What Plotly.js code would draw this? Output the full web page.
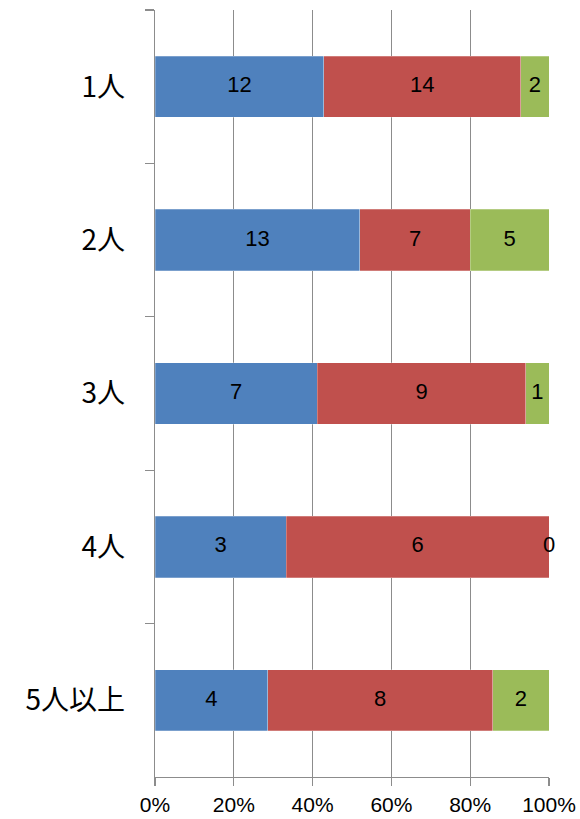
<!DOCTYPE html>
<html><head><meta charset="utf-8">
<script src="https://cdn.plot.ly/plotly-3.0.1.min.js"></script>
<style>html,body{margin:0;padding:0;background:#fff;}#chart{width:580px;height:819px;}</style>
</head><body><div id="chart"></div>
<script>
const categories = ["1人", "2人", "3人", "4人", "5人以上"];
const seriesA = [12, 13, 7, 3, 4];
const seriesB = [14, 7, 9, 6, 8];
const seriesC = [2, 5, 1, 0, 2];
const xTickVals = [0, 0.2, 0.4, 0.6, 0.8, 1.0];
const xTickText = ["0%", "20%", "40%", "60%", "80%", "100%"];

const colors = ["#4F81BD", "#C0504D", "#9BBB59"];
const series = [seriesA, seriesB, seriesC];
const totals = categories.map((_, i) => seriesA[i] + seriesB[i] + seriesC[i]);

const traces = series.map((s, k) => ({
  type: "bar", orientation: "h",
  y: categories,
  x: s.map((v, i) => v / totals[i]),
  marker: {color: colors[k], line: {color: "rgba(255,255,255,0.5)", width: 0.5}},
  width: 0.4,
  hoverinfo: "skip",
  showlegend: false
}));

// data labels at the centre of each segment
const lx = [], ly = [], lt = [];
categories.forEach((c, i) => {
  let cum = 0;
  series.forEach(s => {
    const f = s[i] / totals[i];
    lx.push(cum + f / 2); ly.push(c); lt.push(String(s[i]));
    cum += f;
  });
});
traces.push({
  type: "scatter", mode: "text", x: lx, y: ly, text: lt,
  textposition: "middle center",
  textfont: {family: "Liberation Sans, Arial, sans-serif", size: 22, color: "#000"},
  hoverinfo: "skip", showlegend: false, cliponaxis: false
});

const layout = {
  width: 580, height: 819,
  margin: {l: 155, r: 31, t: 10, b: 42},
  paper_bgcolor: "#fff", plot_bgcolor: "#fff",
  barmode: "stack",
  showlegend: false,
  xaxis: {
    range: [0, 1], tickvals: xTickVals, ticktext: xTickText,
    showgrid: true, gridcolor: "#8c8c8c", gridwidth: 1.3,
    showline: true, linecolor: "#8c8c8c", linewidth: 1.3,
    ticks: "outside", ticklen: 8, tickcolor: "#8c8c8c", tickwidth: 1.3,
    tickfont: {family: "Liberation Sans, Arial, sans-serif", size: 21, color: "#000"},
    ticklabelstandoff: 0,
    zeroline: false, fixedrange: true
  },
  yaxis: {
    type: "category", categoryorder: "array", categoryarray: categories,
    autorange: "reversed",
    showgrid: false, zeroline: false,
    showline: true, linecolor: "#8c8c8c", linewidth: 1.3,
    ticks: "outside", tickson: "boundaries", ticklen: 9, tickcolor: "#8c8c8c", tickwidth: 1.3,
    tickfont: {family: "Noto Sans CJK JP, sans-serif", size: 28, color: "#000"},
    ticklabelstandoff: 23,
    fixedrange: true
  }
};
Plotly.newPlot("chart", traces, layout, {displayModeBar: false, staticPlot: true});
</script>
</body></html>
